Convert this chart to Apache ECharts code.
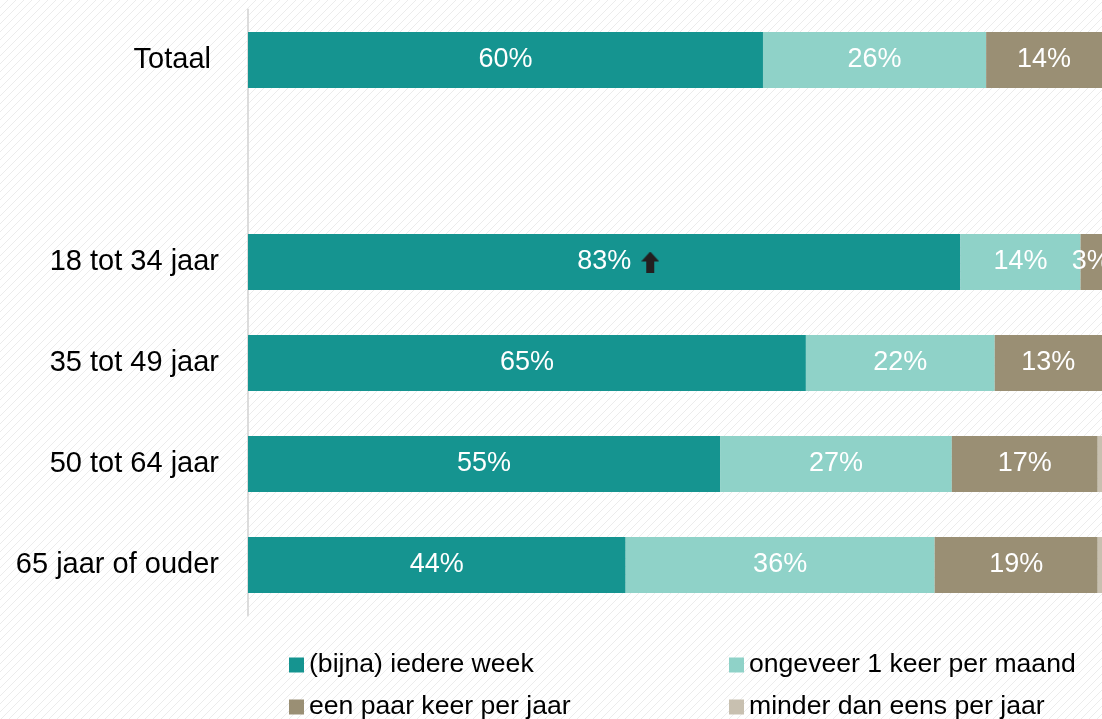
<!DOCTYPE html>
<html>
<head>
<meta charset="utf-8">
<script src="https://cdn.jsdelivr.net/npm/echarts@6/dist/echarts.min.js"></script>
<style>
  html, body { margin: 0; padding: 0; background: #fff; }
  #chart { width: 1102px; height: 719px; }
</style>
</head>
<body>
<div id="chart"></div>
<script>
// categories (empty one is the gap under Totaal)
const categories = ['Totaal', '', '18 tot 34 jaar', '35 tot 49 jaar', '50 tot 64 jaar', '65 jaar of ouder'];
const seriesNames = ['(bijna) iedere week', 'ongeveer 1 keer per maand', 'een paar keer per jaar', 'minder dan eens per jaar'];
const weekly   = [60, null, 83, 65, 55, 44];
const monthly  = [26, null, 14, 22, 27, 36];
const yearly   = [14, null, 3, 13, 17, 19];
const lessThan = [0, null, 0, 0, 1, 1];
// significant increase marker per category
const upArrow  = [false, false, true, false, false, false];

const colors = ['#159490', '#8fd2c8', '#9a8f74', '#c8c0b0'];

// diagonal hatch background
function hatch() {
  const c = document.createElement('canvas');
  c.width = 8; c.height = 8;
  const ctx = c.getContext('2d');
  ctx.fillStyle = '#ffffff';
  ctx.fillRect(0, 0, 8, 8);
  ctx.strokeStyle = '#ececec';
  ctx.lineWidth = 1;
  ctx.beginPath();
  ctx.moveTo(0, 8); ctx.lineTo(8, 0);
  ctx.moveTo(-1, 1); ctx.lineTo(1, -1);
  ctx.moveTo(7, 9); ctx.lineTo(9, 7);
  ctx.stroke();
  return c;
}

// block arrow used next to significant values
function arrowImage() {
  const c = document.createElement('canvas');
  c.width = 18; c.height = 21;
  const ctx = c.getContext('2d');
  ctx.fillStyle = '#231f20';
  ctx.beginPath();
  ctx.moveTo(9, 0);
  ctx.lineTo(18, 10);
  ctx.lineTo(13, 10);
  ctx.lineTo(13, 21);
  ctx.lineTo(5, 21);
  ctx.lineTo(5, 10);
  ctx.lineTo(0, 10);
  ctx.closePath();
  ctx.fill();
  return c;
}

const font = "'Liberation Sans', Arial, sans-serif";
const arrow = arrowImage();

function makeSeries(name, data, idx) {
  return {
    name: name,
    type: 'bar',
    stack: 'total',
    barWidth: 56,
    data: data,
    itemStyle: { color: colors[idx] },
    label: {
      show: idx < 3,
      position: 'inside',
      color: '#ffffff',
      fontFamily: font,
      fontSize: 27,
      formatter: function (p) {
        if (p.value == null || p.value < 2) return '';
        if (idx === 0 && upArrow[p.dataIndex]) {
          return '{pad|}{v|' + p.value + '%}{g|}{a|}';
        }
        return p.value + '%';
      },
      rich: {
        v: { color: '#ffffff', fontSize: 27, fontFamily: font },
        pad: { width: 28 },
        g: { width: 10 },
        a: { width: 18, height: 21, backgroundColor: { image: arrow } }
      }
    }
  };
}

const legendBase = {
  orient: 'vertical',
  top: 650,
  height: 100,
  padding: 0,
  icon: 'rect',
  itemWidth: 15,
  itemHeight: 15,
  itemGap: 12,
  textStyle: { color: '#000000', fontSize: 26.6, fontFamily: font, lineHeight: 30 }
};

const chart = echarts.init(document.getElementById('chart'));
chart.setOption({
  backgroundColor: { image: hatch(), repeat: 'repeat' },
  animation: false,
  grid: { left: 248, top: 9.5, bottom: 103.5, right: 0, containLabel: false },
  xAxis: {
    type: 'value',
    min: 0,
    max: 99.5,
    show: false,
    splitLine: { show: false }
  },
  yAxis: {
    type: 'category',
    data: categories,
    inverse: true,
    axisLine: { show: true, lineStyle: { color: '#dcdcdc', width: 2 } },
    axisTick: { show: false },
    axisLabel: {
      color: '#000000',
      fontSize: 29,
      fontFamily: font,
      margin: 29,
      // the total label sits a little further from the axis
      formatter: function (v, i) { return i === 0 ? '{t|' + v + '}' : v; },
      rich: { t: { fontSize: 29, fontFamily: font, color: '#000000', padding: [0, 8, 0, 0] } }
    }
  },
  legend: [
    Object.assign({}, legendBase, { left: 289, data: [seriesNames[0], seriesNames[2]] }),
    Object.assign({}, legendBase, { left: 729, data: [seriesNames[1], seriesNames[3]] })
  ],
  series: [
    makeSeries(seriesNames[0], weekly, 0),
    makeSeries(seriesNames[1], monthly, 1),
    makeSeries(seriesNames[2], yearly, 2),
    makeSeries(seriesNames[3], lessThan, 3)
  ]
});
window.addEventListener('resize', function () { chart.resize(); });
</script>
</body>
</html>
